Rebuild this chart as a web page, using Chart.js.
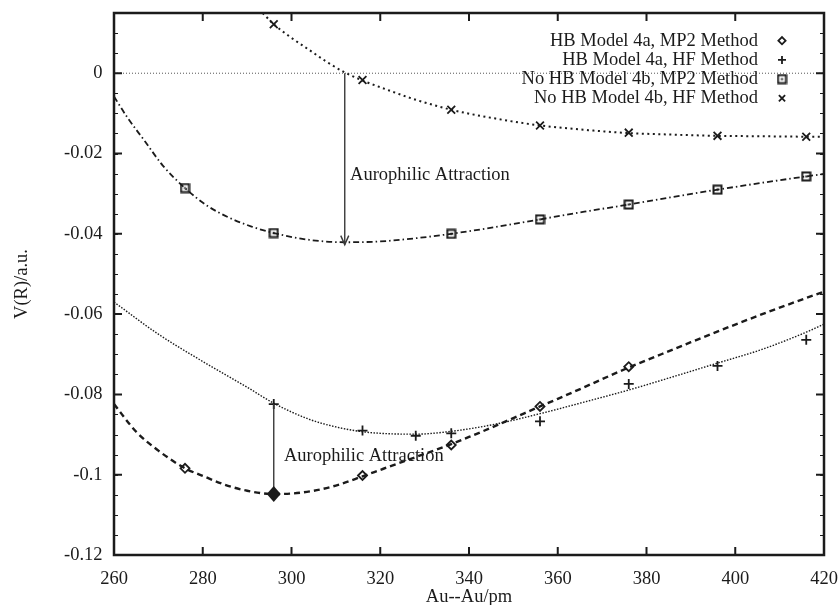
<!DOCTYPE html>
<html>
<head>
<meta charset="utf-8">
<script src="https://cdn.jsdelivr.net/npm/chart.js@4"></script>
<style>
  body { margin: 0; background: #fff; }
  canvas { display: block; }
</style>
</head>
<body>
<canvas id="potentialChart" width="839" height="605"></canvas>
<script>
// Axis ticks
const xTicks = [260, 280, 300, 320, 340, 360, 380, 400, 420];
const yTicks = [-0.12, -0.1, -0.08, -0.06, -0.04, -0.02, 0];
const yTickLabels = ['-0.12', '-0.1', '-0.08', '-0.06', '-0.04', '-0.02', '0'];

// Computed points
const hbMp2X = [276, 296, 316, 336, 356, 376];
const hbMp2Y = [-0.0984, -0.1048, -0.1002, -0.0926, -0.0830, -0.0731];
const hbHfX = [296, 316, 328, 336, 356, 376, 396, 416];
const hbHfY = [-0.0824, -0.0890, -0.0903, -0.0897, -0.0867, -0.0774, -0.0729, -0.0664];
const noHbMp2X = [276, 296, 336, 356, 376, 396, 416];
const noHbMp2Y = [-0.0286, -0.0398, -0.0400, -0.0364, -0.0327, -0.0290, -0.0257];
const noHbHfX = [296, 316, 336, 356, 376, 396, 416];
const noHbHfY = [0.0122, -0.0017, -0.0091, -0.0130, -0.0148, -0.0156, -0.0158];

// Fitted curves
const hbMp2FitX = [260, 265, 270, 276, 280, 285, 290, 296, 300, 305, 310, 316, 320, 325, 330, 336, 340, 345, 350, 356, 360, 366, 370, 376, 380, 390, 400, 410, 420];
const hbMp2FitY = [-0.0824, -0.0893, -0.0940, -0.0984, -0.1003, -0.1025, -0.1040, -0.1048, -0.1047, -0.1040, -0.1027, -0.1004, -0.0988, -0.0968, -0.0948, -0.0924, -0.0906, -0.0883, -0.0859, -0.0830, -0.0811, -0.0782, -0.0762, -0.0733, -0.0715, -0.0670, -0.0626, -0.0584, -0.0544];
const hbHfFitX = [260, 270, 280, 290, 296, 304, 310, 316, 322, 328, 336, 346, 356, 366, 376, 386, 396, 406, 416, 420];
const hbHfFitY = [-0.0570, -0.0650, -0.0718, -0.0782, -0.0822, -0.0862, -0.0881, -0.0893, -0.0898, -0.0899, -0.0892, -0.0874, -0.0848, -0.0819, -0.0789, -0.0756, -0.0722, -0.0688, -0.0645, -0.0625];
const noHbMp2FitX = [260, 263, 267, 271, 276, 281, 286, 291, 296, 304, 312, 320, 328, 336, 346, 356, 366, 376, 386, 396, 406, 416, 420];
const noHbMp2FitY = [-0.0058, -0.0110, -0.0170, -0.0230, -0.0286, -0.0330, -0.0360, -0.0382, -0.0398, -0.0415, -0.0421, -0.0419, -0.0411, -0.0400, -0.0383, -0.0364, -0.0345, -0.0327, -0.0308, -0.0290, -0.0273, -0.0257, -0.0251];
const noHbHfFitX = [293.5, 296, 300, 304, 308, 312, 316, 322, 328, 336, 346, 356, 366, 376, 386, 396, 406, 416, 420];
const noHbHfFitY = [0.0150, 0.0122, 0.0088, 0.0058, 0.0028, 0.0002, -0.0018, -0.0043, -0.0066, -0.0091, -0.0113, -0.0130, -0.0141, -0.0149, -0.0153, -0.0156, -0.0157, -0.0158, -0.0158];

// Arrow annotations: x, from y, to y, label x, label y
const noteText = 'Aurophilic Attraction';
const arrowX = [312, 296];
const arrowFrom = [0, -0.0824];
const arrowTo = [-0.0427, -0.1048];
const noteX = [313.2, 298.3];
const noteY = [-0.0253, -0.0953];

const INK = '#1b1b1b';
const SERIF = '"Liberation Serif", "DejaVu Serif", serif';

function pts(xs, ys) {
    return xs.map((x, i) => ({ x: x, y: ys[i] }));
}

// square with a dot in the middle, like the gnuplot marker
function boxDot() {
    const c = document.createElement('canvas');
    c.width = 11; c.height = 11;
    const g = c.getContext('2d');
    g.strokeStyle = INK;
    g.lineWidth = 2;
    g.strokeRect(1.5, 1.5, 8, 8);
    g.fillStyle = INK;
    g.fillRect(4.5, 4.5, 2, 2);
    return c;
}
const boxMarker = boxDot();

function fitLine(xs, ys, dash, width) {
    return {
        label: '',
        data: pts(xs, ys),
        showLine: true,
        pointRadius: 0,
        borderColor: INK,
        borderWidth: width,
        borderDash: dash,
        cubicInterpolationMode: 'monotone',
        fill: false
    };
}

function pointSet(label, xs, ys, style, radius) {
    return {
        label: label,
        data: pts(xs, ys),
        showLine: false,
        pointStyle: style,
        pointRadius: radius,
        pointBorderWidth: 1.8,
        pointBorderColor: INK,
        pointBackgroundColor: 'rgba(0,0,0,0)'
    };
}

// frame, inward ticks, zero line, arrows, notes, legend
const gnuplotDecor = {
    id: 'gnuplotDecor',
    beforeDatasetsDraw(chart) {
        const { ctx, chartArea: a, scales: { x, y } } = chart;
        const y0 = y.getPixelForValue(0);
        ctx.save();
        ctx.strokeStyle = '#555';
        ctx.lineWidth = 1;
        ctx.setLineDash([1, 2]);
        ctx.beginPath();
        ctx.moveTo(a.left, y0);
        ctx.lineTo(a.right, y0);
        ctx.stroke();
        ctx.restore();
    },
    afterDatasetsDraw(chart) {
        const { ctx, chartArea: a, scales: { x, y } } = chart;
        ctx.save();
        ctx.strokeStyle = INK;
        ctx.fillStyle = INK;

        // ticks
        ctx.lineWidth = 2;
        ctx.beginPath();
        xTicks.forEach(v => {
            const px = x.getPixelForValue(v);
            ctx.moveTo(px, a.bottom); ctx.lineTo(px, a.bottom - 8);
            ctx.moveTo(px, a.top); ctx.lineTo(px, a.top + 8);
        });
        yTicks.forEach(v => {
            const py = y.getPixelForValue(v);
            ctx.moveTo(a.left, py); ctx.lineTo(a.left + 8, py);
            ctx.moveTo(a.right, py); ctx.lineTo(a.right - 8, py);
        });
        ctx.stroke();
        ctx.lineWidth = 1;
        ctx.beginPath();
        for (let v = -0.115; v < 0.015; v += 0.005) {
            const py = Math.round(y.getPixelForValue(v)) + 0.5;
            ctx.moveTo(a.left, py); ctx.lineTo(a.left + 4, py);
            ctx.moveTo(a.right, py); ctx.lineTo(a.right - 4, py);
        }
        ctx.stroke();

        // frame
        ctx.lineWidth = 2.5;
        ctx.strokeRect(a.left, a.top, a.right - a.left, a.bottom - a.top);

        // arrows
        ctx.strokeStyle = '#3a3a3a';
        ctx.lineWidth = 1.4;
        arrowX.forEach((v, i) => {
            const px = x.getPixelForValue(v);
            const p1 = y.getPixelForValue(arrowFrom[i]);
            const p2 = y.getPixelForValue(arrowTo[i]);
            ctx.beginPath();
            ctx.moveTo(px, p1);
            ctx.lineTo(px, p2);
            ctx.stroke();
            if (i === 0) {
                ctx.beginPath();
                ctx.moveTo(px - 4, p2 - 9);
                ctx.lineTo(px, p2);
                ctx.lineTo(px + 4, p2 - 9);
                ctx.stroke();
            } else {
                ctx.beginPath();
                ctx.moveTo(px, p2 - 8);
                ctx.lineTo(px + 7, p2);
                ctx.lineTo(px, p2 + 8);
                ctx.lineTo(px - 7, p2);
                ctx.closePath();
                ctx.fillStyle = INK;
                ctx.fill();
            }
        });

        // notes
        ctx.font = '18.5px ' + SERIF;
        ctx.fillStyle = INK;
        ctx.textAlign = 'left';
        ctx.textBaseline = 'middle';
        noteX.forEach((v, i) => {
            ctx.fillText(noteText, x.getPixelForValue(v), y.getPixelForValue(noteY[i]));
        });

        // legend, gnuplot style: text right aligned, marker to its right
        const sets = chart.data.datasets.filter(d => d.label);
        ctx.textAlign = 'right';
        sets.forEach((d, i) => {
            const ly = a.top + 27.7 + i * 19.2;
            ctx.fillStyle = INK;
            ctx.fillText(d.label, a.right - 66, ly);
            ctx.lineWidth = d.pointBorderWidth;
            ctx.strokeStyle = INK;
            ctx.fillStyle = 'rgba(0,0,0,0)';
            Chart.helpers.drawPoint(ctx, {
                pointStyle: d.pointStyle,
                radius: d.pointRadius * 0.8,
                rotation: 0,
                borderWidth: d.pointBorderWidth
            }, a.right - 42, ly);
        });
        ctx.restore();
    }
};

const ctx = document.getElementById('potentialChart');
new Chart(ctx, {
    type: 'scatter',
    data: {
        datasets: [
            pointSet('HB Model 4a, MP2 Method', hbMp2X, hbMp2Y, 'rectRot', 4.5),
            pointSet('HB Model 4a, HF Method', hbHfX, hbHfY, 'cross', 5),
            pointSet('No HB Model 4b, MP2 Method', noHbMp2X, noHbMp2Y, boxMarker, 5),
            pointSet('No HB Model 4b, HF Method', noHbHfX, noHbHfY, 'crossRot', 5.5),
            fitLine(hbMp2FitX, hbMp2FitY, [6, 4], 2.4),
            fitLine(hbHfFitX, hbHfFitY, [1.5, 1.5], 1.4),
            fitLine(noHbMp2FitX, noHbMp2FitY, [6, 3, 1.5, 3], 1.8),
            fitLine(noHbHfFitX, noHbHfFitY, [2, 3.5], 2)
        ]
    },
    options: {
        responsive: false,
        animation: false,
        layout: {
            padding: { left: 0, top: 13, right: 15, bottom: 0 }
        },
        plugins: {
            legend: { display: false },
            tooltip: { enabled: false }
        },
        scales: {
            x: {
                type: 'linear',
                min: 260,
                max: 420,
                afterBuildTicks: function (scale) {
                    scale.ticks = xTicks.map(v => ({ value: v }));
                },
                afterFit: function (scale) {
                    scale.height = 50;
                    scale.paddingLeft = 0;
                    scale.paddingRight = 0;
                },
                grid: { display: false, drawTicks: false },
                border: { display: false },
                ticks: {
                    color: INK,
                    padding: 13,
                    maxRotation: 0,
                    font: { family: SERIF, size: 18.5 }
                },
                title: {
                    display: true,
                    text: 'Au--Au/pm',
                    color: INK,
                    padding: { top: 0, bottom: -1 },
                    font: { family: SERIF, size: 18.5, lineHeight: 1 }
                }
            },
            y: {
                type: 'linear',
                min: -0.12,
                max: 0.015,
                afterBuildTicks: function (scale) {
                    scale.ticks = yTicks.map(v => ({ value: v }));
                },
                afterFit: function (scale) {
                    scale.width = 114;
                    scale.paddingTop = 0;
                    scale.paddingBottom = 0;
                },
                grid: { display: false, drawTicks: false },
                border: { display: false },
                ticks: {
                    color: INK,
                    padding: 11.5,
                    font: { family: SERIF, size: 18.5 },
                    callback: function (value) {
                        const i = yTicks.findIndex(t => Math.abs(t - value) < 1e-9);
                        return i >= 0 ? yTickLabels[i] : '';
                    }
                },
                title: {
                    display: true,
                    text: 'V(R)/a.u.',
                    color: INK,
                    padding: { top: 12.75, bottom: 0 },
                    font: { family: SERIF, size: 18.5, lineHeight: 1 }
                }
            }
        }
    },
    plugins: [gnuplotDecor]
});
</script>
</body>
</html>
